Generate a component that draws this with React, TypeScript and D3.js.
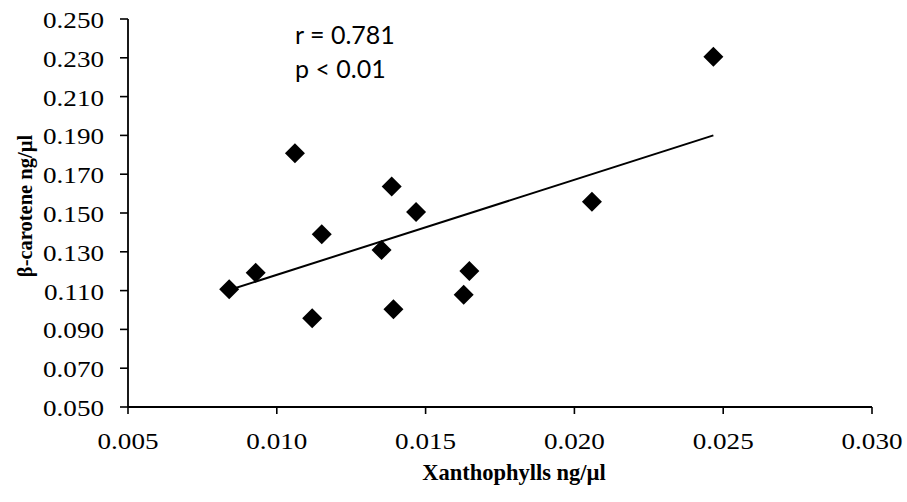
import React from "react";
import * as d3 from "d3";

const xValues = [0.0084, 0.00929, 0.01061, 0.01151, 0.01119, 0.01352, 0.01386, 0.01468, 0.01392, 0.01647, 0.01628, 0.02059, 0.02467];
const yValues = [0.1107, 0.1192, 0.1808, 0.139, 0.0957, 0.1309, 0.1636, 0.1505, 0.1004, 0.1201, 0.1079, 0.1558, 0.2306];
const xTicks = [0.005, 0.01, 0.015, 0.02, 0.025, 0.03];
const yTicks = [0.05, 0.07, 0.09, 0.11, 0.13, 0.15, 0.17, 0.19, 0.21, 0.23, 0.25];
const annotation = ["r = 0.781", "p < 0.01"];
const xTitle = "Xanthophylls ng/µl";
const yTitle = "β-carotene ng/µl";

const W = 907, H = 502;
const left = 128, right = 872, top = 19, bottom = 407;
const SX = 1.13;
const serif = "'Liberation Serif', 'DejaVu Serif', serif";

export default function App() {
  const x = d3.scaleLinear().domain([0.005, 0.03]).range([left, right]);
  const y = d3.scaleLinear().domain([0.05, 0.25]).range([bottom, top]);

  const mx = d3.mean(xValues) as number;
  const my = d3.mean(yValues) as number;
  let sxy = 0, sxx = 0;
  xValues.forEach((v, i) => { sxy += (v - mx) * (yValues[i] - my); sxx += (v - mx) * (v - mx); });
  const slope = sxy / sxx;
  const intercept = my - slope * mx;
  const x0 = d3.min(xValues) as number;
  const x1 = d3.max(xValues) as number;
  const line = d3.line<number>().x((d) => x(d)).y((d) => y(intercept + slope * d));

  const diamond = d3.symbol().type(d3.symbolSquare).size(200)() as string;
  const fmt = d3.format(".3f");

  return (
    <svg width={W} height={H} style={{ position: "absolute", left: 0, top: 0, background: "#fff" }}>
      {/* axes */}
      <line x1={left} y1={top} x2={left} y2={bottom} stroke="#000" strokeWidth={1.8} />
      <line x1={left} y1={bottom} x2={right} y2={bottom} stroke="#000" strokeWidth={1.8} />
      {yTicks.map((t) => (
        <g key={"y" + t}>
          <line x1={left - 8} x2={left} y1={y(t)} y2={y(t)} stroke="#000" strokeWidth={1.6} />
          <text
            transform={`translate(${left - 24},${y(t) + 9}) scale(${SX},1)`}
            textAnchor="end"
            fontFamily={serif}
            fontSize={24}
            fill="#000"
          >
            {fmt(t)}
          </text>
        </g>
      ))}
      {xTicks.map((t) => (
        <g key={"x" + t}>
          <line x1={x(t)} x2={x(t)} y1={bottom} y2={bottom + 7} stroke="#000" strokeWidth={1.6} />
          <text
            transform={`translate(${x(t)},${bottom + 42}) scale(${SX},1)`}
            textAnchor="middle"
            fontFamily={serif}
            fontSize={24}
            fill="#000"
          >
            {fmt(t)}
          </text>
        </g>
      ))}
      {/* trend line */}
      <path d={line([x0, x1]) as string} fill="none" stroke="#000" strokeWidth={2} />
      {/* points */}
      {xValues.map((v, i) => (
        <path key={i} d={diamond} transform={`translate(${x(v)},${y(yValues[i])}) rotate(45)`} fill="#000" />
      ))}
      {/* annotation */}
      {annotation.map((s, i) => (
        <text key={s} x={295} y={44 + i * 34} fontFamily="Lato, 'Open Sans', sans-serif" fontSize={25} fill="#000">
          {s}
        </text>
      ))}
      {/* titles */}
      <text x={514} y={480} textAnchor="middle" fontFamily={serif} fontWeight="bold" fontSize={22.5} fill="#000">
        {xTitle}
      </text>
      <text
        transform={`translate(32,206) rotate(-90)`}
        textAnchor="middle"
        fontFamily={serif}
        fontWeight="bold"
        fontSize={20.5}
        fill="#000"
      >
        {yTitle}
      </text>
    </svg>
  );
}
